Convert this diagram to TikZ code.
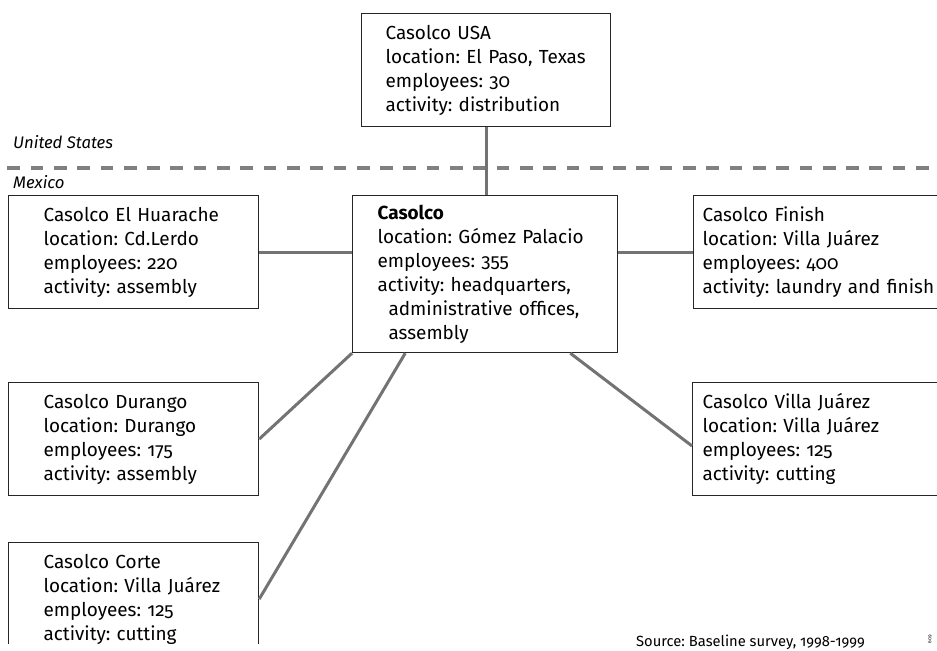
\documentclass[tikz,border=0pt]{standalone}
\usepackage{fontspec}
\setmainfont{Fira Sans}[Numbers=OldStyle]
\usetikzlibrary{calc}
\definecolor{conngray}{gray}{0.45}
\definecolor{dashgray}{gray}{0.5}
\definecolor{boxline}{gray}{0.15}
\frenchspacing
\begin{document}
\frenchspacing
\begin{tikzpicture}[x=1bp,y=-1bp,
  box/.style={draw=boxline, line width=1.2bp, inner sep=0pt, anchor=north west,
    align=left, minimum height=113bp, font=\fontsize{19}{24}\selectfont\frenchspacing},
  conn/.style={draw=conngray, line width=3bp},
  border/.style={draw=dashgray, line width=3bp, dash pattern=on 12.7bp off 10.6bp},
  country/.style={anchor=base west, inner sep=0pt, font=\fontsize{16.8}{18}\selectfont\itshape},
  source/.style={anchor=base west, inner sep=0pt, font=\fontsize{14.8}{16}\selectfont\frenchspacing}]
\useasboundingbox (0,0) rectangle (937,651);
\clip (0,0) rectangle (937,651);

% border between countries
\draw[border] (7.3,168) -- (937,168);
\node[country] (us) at (13,149) {United States};
\node[country] (mx) at (13,188) {Mexico};

% boxes
\node[box, text width=249bp] (usa) at (361,13)
  {\leftskip=24bp Casolco USA\\ location: El Paso, Texas\\ employees: 30\\ activity: distribution\par};
\node[box, text width=265bp, minimum height=157bp] (center) at (352,195)
  {\leftskip=25bp \textbf{Casolco}\\ location: Gómez Palacio\\ employees: 355\\ activity: headquarters,\\
   \hspace*{11bp}administrative offices,\\ \hspace*{11bp}assembly\par};
\node[box, text width=250bp] (huarache) at (8,195)
  {\leftskip=35bp Casolco El Huarache\\ location: Cd.Lerdo\\ employees: 220\\ activity: assembly\par};
\node[box, text width=250bp] (durango) at (8,382)
  {\leftskip=35bp Casolco Durango\\ location: Durango\\ employees: 175\\ activity: assembly\par};
\begin{scope}
\clip (0,0) rectangle (937,643);
\node[box, text width=250bp] (corte) at (8,542)
  {\leftskip=35bp Casolco Corte\\ location: Villa Juárez\\ employees: 125\\ activity: cutting\par};
\end{scope}
\node[box, text width=300bp] (finish) at (693,195)
  {\leftskip=9bp Casolco Finish\\ location: Villa Juárez\\ employees: 400\\ activity: laundry and finish\par};
\node[box, text width=300bp] (vj) at (692,382)
  {\leftskip=10bp Casolco Villa Juárez\\ location: Villa Juárez\\ employees: 125\\ activity: cutting\par};

% connectors
\draw[conn] (usa.south) -- (usa.south |- center.north);
\draw[conn] (huarache.east) -- (huarache.east -| center.west);
\draw[conn] (center.east |- finish.west) -- (finish.west);
\draw[conn] (durango.east) -- (center.south west);
\draw[conn] ($(center.south west)!0.2!(center.south east)$) -- (corte.east);
\draw[conn] ($(center.south west)!0.82!(center.south east)$) -- ($(vj.north west)!0.56!(vj.south west)$);

% source
\node[source] (src) at (636,646) {Source: Baseline survey, 1998-1999};
\node[rotate=90, inner sep=0pt, font=\fontsize{5}{6}\selectfont] (num) at (930,639) {609};
\end{tikzpicture}
\end{document}
